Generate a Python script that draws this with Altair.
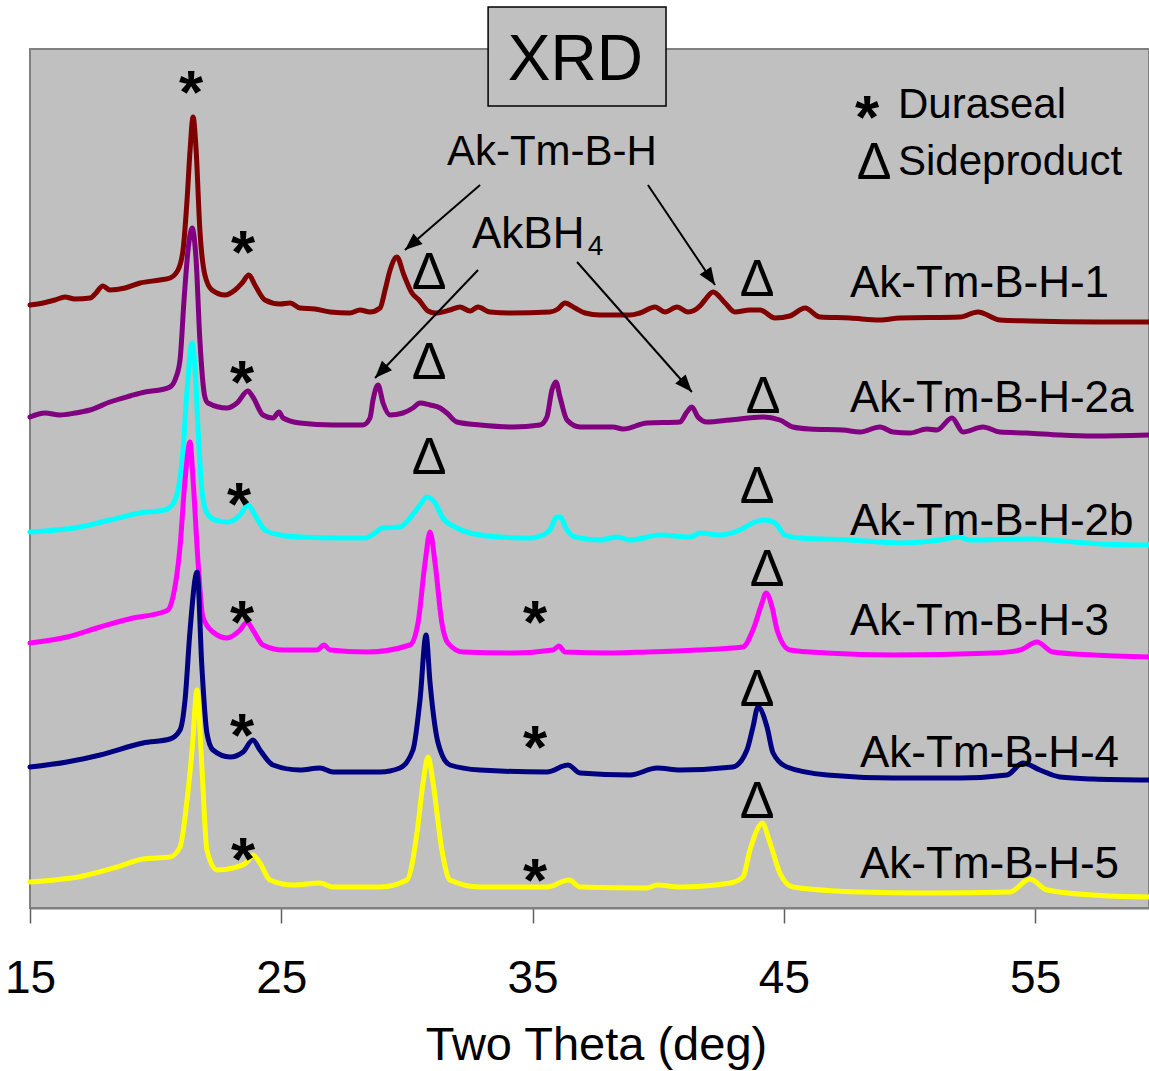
import math
import altair as alt
import pandas as pd

# ---- diffraction traces (two-theta in degrees, stacked intensity in a.u.) ----
SAMPLES = ["Ak-Tm-B-H-1", "Ak-Tm-B-H-2a", "Ak-Tm-B-H-2b",
           "Ak-Tm-B-H-3", "Ak-Tm-B-H-4", "Ak-Tm-B-H-5"]
COLORS = ["#800000", "#800080", "#00FFFF", "#FF00FF", "#000080", "#FFFF00"]

tt_1 = [15.00, 15.52, 15.99, 16.39, 16.79, 17.39, 17.59, 17.90, 18.18, 18.78, 19.38, 20.17,
        20.57, 20.89, 21.09, 21.25, 21.37, 21.49, 21.61, 21.76, 21.96, 22.24, 22.76, 23.16,
        23.44, 23.71, 23.95, 24.35, 24.95, 25.35, 25.74, 26.34, 26.94, 27.73, 28.13, 28.53,
        28.93, 29.13, 29.33, 29.60, 29.88, 30.20, 30.48, 30.84, 31.12, 31.71, 32.11, 32.51,
        32.83, 33.30, 34.10, 35.69, 36.01, 36.29, 36.69, 37.09, 37.68, 38.88, 39.27, 39.87,
        40.27, 40.75, 41.18, 41.66, 41.86, 42.18, 42.66, 43.05, 43.65, 44.05, 44.65, 45.24,
        45.84, 46.44, 47.63, 48.82, 49.62, 52.01, 52.72, 53.60, 54.79, 57.58, 59.53]
i_1 = [603, 605, 608, 611, 609, 610, 614, 622, 618, 620, 625, 628,
       630, 638, 658, 708, 758, 791, 758, 678, 633, 618, 613, 618,
       625, 633, 623, 608, 604, 605, 600, 599, 596, 595, 598, 596,
       600, 618, 638, 651, 633, 615, 608, 597, 595, 598, 601, 597,
       601, 596, 595, 596, 599, 605, 600, 595, 593, 593, 595, 601,
       596, 601, 596, 602, 608, 616, 605, 596, 598, 598, 590, 592,
       600, 591, 590, 588, 590, 591, 596, 588, 587, 586, 586]

tt_2a = [15.00, 15.60, 16.19, 16.79, 17.39, 18.18, 18.98, 19.58, 20.17, 20.57, 20.77, 20.97,
         21.13, 21.29, 21.45, 21.61, 21.76, 21.96, 22.08, 22.84, 23.24, 23.67, 23.87, 24.27,
         24.67, 24.91, 25.07, 25.74, 27.06, 28.25, 28.53, 28.65, 28.85, 29.05, 29.33, 29.84,
         30.24, 30.52, 30.92, 31.32, 31.59, 31.99, 32.91, 34.22, 35.29, 35.57, 35.77, 35.93,
         36.09, 36.37, 36.89, 38.20, 38.60, 39.55, 40.87, 41.14, 41.34, 41.58, 41.94, 42.86,
         44.17, 44.84, 45.36, 46.04, 47.35, 48.03, 48.82, 49.34, 50.02, 50.69, 51.09, 51.69,
         52.13, 52.92, 53.60, 54.67, 55.99, 57.30, 59.53]
i_2a = [491, 495, 493, 495, 498, 506, 512, 516, 518, 521, 528, 548,
        608, 658, 680, 648, 568, 511, 505, 500, 505, 517, 511, 493,
        490, 496, 490, 485, 483, 483, 490, 508, 523, 505, 493, 495,
        500, 505, 503, 500, 495, 486, 483, 481, 483, 491, 518, 526,
        511, 488, 481, 481, 479, 485, 486, 496, 501, 491, 486, 488,
        491, 488, 481, 479, 478, 476, 481, 476, 475, 479, 478, 490,
        476, 481, 476, 475, 473, 472, 473]

tt_2b = [15.00, 16.99, 18.18, 19.38, 20.37, 20.65, 20.89, 21.09, 21.25, 21.45, 21.57, 21.69,
         21.84, 22.04, 22.36, 22.88, 23.36, 23.67, 23.95, 24.35, 24.95, 25.74, 27.34, 28.33,
         28.73, 29.01, 29.72, 30.12, 30.52, 30.80, 31.12, 31.43, 31.91, 32.51, 33.70, 34.90,
         35.41, 35.69, 35.97, 36.09, 36.37, 36.69, 37.68, 38.36, 38.88, 40.07, 41.26, 41.66,
         42.46, 43.25, 43.85, 44.25, 44.65, 45.04, 45.64, 47.63, 49.62, 51.21, 51.93, 52.41,
         54.79, 57.58, 59.53]
i_2b = [376, 381, 388, 395, 398, 403, 418, 458, 518, 565, 538, 478,
        418, 395, 388, 386, 393, 403, 393, 378, 373, 371, 370, 370,
        375, 380, 381, 390, 403, 411, 405, 390, 381, 375, 371, 370,
        373, 378, 391, 391, 378, 371, 368, 371, 368, 373, 371, 375,
        373, 378, 386, 388, 385, 373, 370, 368, 365, 368, 371, 368,
        369, 364, 363]

tt_3 = [15.00, 16.47, 17.79, 19.10, 20.17, 20.49, 20.69, 20.97, 21.17, 21.37, 21.49, 21.69,
        21.88, 22.28, 22.84, 23.36, 23.64, 23.87, 24.27, 25.07, 26.42, 26.70, 26.94, 28.41,
        30.12, 30.44, 30.72, 30.92, 31.12, 31.39, 31.63, 32.23, 34.22, 35.81, 36.05, 36.29,
        38.20, 39.55, 41.54, 43.37, 43.77, 44.13, 44.29, 44.53, 44.73, 45.24, 46.72, 49.34,
        53.32, 54.40, 55.07, 55.71, 57.30, 59.53]
i_3 = [265, 271, 281, 290, 295, 298, 311, 361, 428, 466, 428, 345,
       291, 276, 270, 278, 286, 278, 263, 258, 258, 263, 258, 256,
       263, 285, 345, 376, 345, 285, 265, 256, 255, 258, 262, 256,
       255, 256, 258, 261, 278, 305, 315, 301, 278, 258, 255, 253,
       255, 258, 266, 256, 253, 251]

tt_4 = [15.00, 16.47, 17.79, 19.50, 20.57, 20.97, 21.17, 21.37, 21.65, 21.84, 22.04, 22.28,
        22.96, 23.48, 23.87, 24.15, 24.67, 25.74, 26.54, 27.06, 28.93, 29.72, 30.24, 30.52,
        30.76, 30.92, 31.24, 31.71, 32.91, 35.57, 36.41, 36.89, 38.88, 39.95, 40.87, 42.97,
        43.53, 43.77, 43.97, 44.33, 44.57, 45.12, 46.72, 49.34, 52.01, 53.88, 54.51, 55.19,
        55.99, 57.30, 59.53]
i_4 = [141, 146, 153, 165, 169, 178, 208, 278, 336, 241, 175, 158,
       151, 156, 168, 158, 143, 138, 140, 136, 136, 140, 158, 208,
       273, 225, 165, 143, 138, 136, 143, 135, 133, 140, 138, 141,
       158, 181, 201, 181, 155, 141, 133, 130, 130, 133, 145, 138,
       131, 129, 128]

tt_5 = [15.00, 17.11, 18.46, 19.50, 20.57, 20.97, 21.25, 21.45, 21.65, 21.84, 22.04, 22.44,
        23.08, 23.64, 23.87, 24.15, 24.55, 25.47, 26.54, 27.06, 28.93, 30.00, 30.40, 30.64,
        30.84, 31.04, 31.39, 31.71, 32.91, 35.57, 36.45, 36.89, 39.55, 39.95, 40.87, 42.86,
        43.37, 43.65, 43.93, 44.13, 44.45, 44.84, 45.36, 48.03, 50.69, 54.00, 54.79, 55.47,
        57.30, 59.53]
i_5 = [26, 32, 41, 49, 51, 61, 108, 158, 218, 141, 58, 38,
       40, 46, 53, 45, 28, 23, 25, 21, 21, 28, 75, 125,
       151, 125, 58, 28, 21, 21, 28, 21, 20, 23, 21, 25,
       31, 58, 78, 85, 65, 35, 21, 16, 15, 16, 29, 18,
       13, 11]

TWO_THETA = [tt_1, tt_2a, tt_2b, tt_3, tt_4, tt_5]
INTENSITY = [i_1, i_2a, i_2b, i_3, i_4, i_5]

# trace labels: left edge and baseline in data units
label_tt = [47.63, 47.63, 47.63, 47.63, 48.03, 48.03]
label_i = [611, 496, 373, 273, 141, 30]

# phase markers (centre of each symbol)
star_tt = [21.41, 23.48, 23.44, 23.32, 23.44, 35.10, 23.44, 35.10, 23.48, 35.10, 48.31]
star_i = [831, 671, 541, 419, 301, 301, 188, 176, 64, 43, 806]
delta_tt = [30.88, 43.93, 30.88, 44.17, 30.88, 43.93, 44.33, 43.93, 43.93, 48.59]
delta_i = [635, 628, 545, 511, 450, 421, 338, 218, 106, 745]

# annotation arrows: start -> tip
arrow_tt0 = [32.91, 39.59, 32.83, 36.77]
arrow_i0 = [723, 723, 638, 646]
arrow_tt1 = [29.92, 42.26, 28.73, 41.34]
arrow_i1 = [658, 623, 530, 516]

X_MIN, X_MAX = 15, 59.53
Y_MIN, Y_MAX = 0, 859
W, H = 1119, 859
FONT = "Liberation Sans"

rows = []
for name, tts, ints in zip(SAMPLES, TWO_THETA, INTENSITY):
    for t, v in zip(tts, ints):
        rows.append({"sample": name, "tt": t, "inten": v})
traces = pd.DataFrame(rows)

xs = alt.Scale(domain=[X_MIN, X_MAX], nice=False, zero=False)
ys = alt.Scale(domain=[Y_MIN, Y_MAX], nice=False, zero=False)

x_enc = alt.X("tt:Q", scale=xs, axis=alt.Axis(
    values=[15, 25, 35, 45, 55], title="Two Theta (deg)", grid=False,
    domainColor="#808080", domainWidth=2, tickColor="#606060", tickWidth=1.5,
    tickSize=15, labelFont=FONT, labelFontSize=46, labelColor="black",
    labelPadding=33, labelFlush=False, titleFont=FONT, titleFontSize=47,
    titleFontWeight="normal", titleColor="black", titleX=566, titleY=151,
    titleBaseline="alphabetic", titleAlign="center"))
y_enc = alt.Y("inten:Q", scale=ys, axis=None)

lines = alt.Chart(traces).mark_line(
    strokeWidth=5, interpolate="monotone", strokeCap="round", strokeJoin="round"
).encode(
    x=x_enc, y=y_enc,
    color=alt.Color("sample:N", scale=alt.Scale(domain=SAMPLES, range=COLORS), legend=None),
)

labels_df = pd.DataFrame({"tt": label_tt, "inten": label_i, "text": SAMPLES})
labels = alt.Chart(labels_df).mark_text(
    font=FONT, fontSize=44, align="left", baseline="alphabetic", color="black"
).encode(x=alt.X("tt:Q", scale=xs), y=alt.Y("inten:Q", scale=ys), text="text:N")

stars = alt.Chart(pd.DataFrame({"tt": star_tt, "inten": star_i})).mark_text(
    text="*", font=FONT, fontSize=62, fontWeight="bold", align="center",
    baseline="alphabetic", dy=36, color="black"
).encode(x=alt.X("tt:Q", scale=xs), y=alt.Y("inten:Q", scale=ys))

deltas = alt.Chart(pd.DataFrame({"tt": delta_tt, "inten": delta_i})).mark_text(
    text="Δ", font=FONT, fontSize=52, align="center", baseline="alphabetic",
    dy=16, color="black"
).encode(x=alt.X("tt:Q", scale=xs), y=alt.Y("inten:Q", scale=ys))

# legend words and peak assignments
notes_df = pd.DataFrame({
    "tt": [49.54, 49.54, 31.59, 32.59, 37.20],
    "inten": [790, 733, 743, 660, 653],
    "text": ["Duraseal", "Sideproduct", "Ak-Tm-B-H", "AkBH", "4"],
    "size": [42, 42, 42, 44, 28],
})
notes = alt.Chart(notes_df).mark_text(
    font=FONT, align="left", baseline="alphabetic", color="black"
).encode(x=alt.X("tt:Q", scale=xs), y=alt.Y("inten:Q", scale=ys), text="text:N",
         size=alt.Size("size:Q", scale=None))

# arrows
px_x = W / (X_MAX - X_MIN)
px_y = H / (Y_MAX - Y_MIN)
angles = []
for a0, b0, a1, b1 in zip(arrow_tt0, arrow_i0, arrow_tt1, arrow_i1):
    dx = (a1 - a0) * px_x
    dy = -(b1 - b0) * px_y
    angles.append(math.degrees(math.atan2(dx, -dy)) % 360)
arrows_df = pd.DataFrame({"tt": arrow_tt0, "inten": arrow_i0,
                          "tt2": arrow_tt1, "inten2": arrow_i1, "angle": angles})
shafts = alt.Chart(arrows_df).mark_rule(color="black", strokeWidth=2).encode(
    x=alt.X("tt:Q", scale=xs), y=alt.Y("inten:Q", scale=ys), x2="tt2:Q", y2="inten2:Q")
heads = alt.Chart(arrows_df).mark_point(
    shape="M0,0L-0.8,2L0.8,2Z", filled=True, color="black", opacity=1,
    size=300, strokeWidth=0
).encode(x=alt.X("tt2:Q", scale=xs), y=alt.Y("inten2:Q", scale=ys),
         angle=alt.Angle("angle:Q", scale=None))

# framed title
title_box = alt.Chart(pd.DataFrame({"tt": [33.23], "tt2": [40.31],
                                    "inten": [802], "inten2": [901]})).mark_rect(
    fill="#C0C0C0", stroke="black", strokeWidth=1.5
).encode(x=alt.X("tt:Q", scale=xs), x2="tt2:Q",
         y=alt.Y("inten:Q", scale=ys), y2="inten2:Q")
title_text = alt.Chart(pd.DataFrame({"tt": [36.70], "inten": [828], "text": ["XRD"]})).mark_text(
    font=FONT, fontSize=64, align="center", baseline="alphabetic", color="black"
).encode(x=alt.X("tt:Q", scale=xs), y=alt.Y("inten:Q", scale=ys), text="text:N")

chart = alt.layer(
    lines, labels, stars, deltas, notes, shafts, heads, title_box, title_text
).properties(
    width=W, height=H,
    autosize=alt.AutoSizeParams(type="none"),
    padding={"left": 30, "top": 49, "right": 0, "bottom": 163},
    background="white",
).configure_view(
    fill="#C0C0C0", stroke="#808080", strokeWidth=2
)

chart.save("out.html", embed_options={"renderer": "svg", "actions": False})
